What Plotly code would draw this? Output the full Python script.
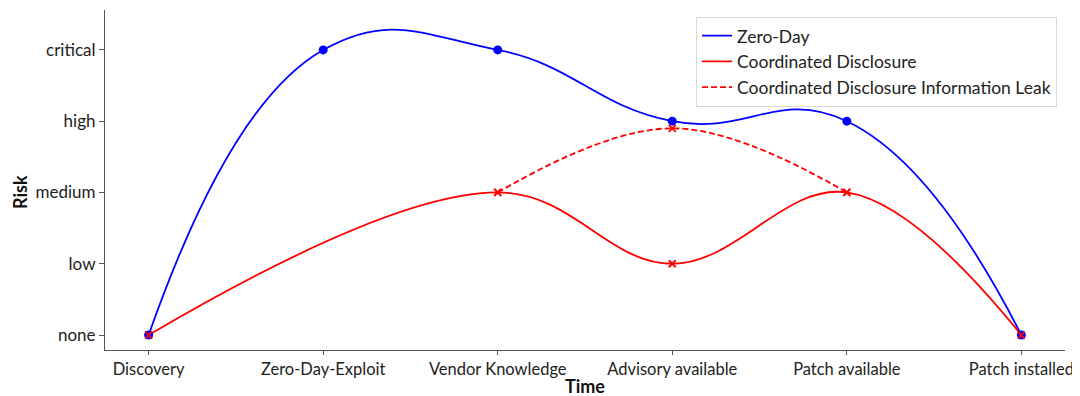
import plotly.graph_objects as go

stages = ["Discovery", "Zero-Day-Exploit", "Vendor Knowledge", "Advisory available",
          "Patch available", "Patch installed"]
risk_labels = ["none", "low", "medium", "high", "critical"]

zero_day_x = stages
zero_day_y = [0, 4, 4, 3, 3, 0]

coord_x = ["Discovery", "Vendor Knowledge", "Advisory available", "Patch available", "Patch installed"]
coord_y = [0, 2, 1, 2, 0]

leak_x = ["Vendor Knowledge", "Advisory available", "Patch available"]
leak_y = [2, 2.9, 2]

BLUE = "#0000ff"
RED = "#ff0000"
FONT = "Lato"
LW = 1.8
SMOOTH = 1.1

fig = go.Figure()

fig.add_trace(go.Scatter(x=zero_day_x, y=zero_day_y, mode="lines", name="Zero-Day",
                         line=dict(color=BLUE, width=LW, shape="spline", smoothing=1.3)))
fig.add_trace(go.Scatter(x=coord_x, y=coord_y, mode="lines", name="Coordinated Disclosure",
                         line=dict(color=RED, width=LW, shape="spline", smoothing=SMOOTH)))
fig.add_trace(go.Scatter(x=leak_x, y=leak_y, mode="lines", name="Coordinated Disclosure Information Leak",
                         line=dict(color=RED, width=LW, shape="spline", smoothing=SMOOTH, dash="6px,3px")))
fig.add_trace(go.Scatter(x=zero_day_x, y=zero_day_y, mode="markers", showlegend=False,
                         marker=dict(color=BLUE, size=9, symbol="circle")))
fig.add_trace(go.Scatter(x=coord_x, y=coord_y, mode="markers", showlegend=False,
                         marker=dict(color=RED, size=7, symbol="x-thin",
                                     line=dict(color=RED, width=1.8))))
fig.add_trace(go.Scatter(x=leak_x, y=leak_y, mode="markers", showlegend=False,
                         marker=dict(color=RED, size=7, symbol="x-thin",
                                     line=dict(color=RED, width=1.8))))

# page has an 8px body margin, so the figure is 1072x388 placed at (8, 8)
fig.update_layout(
    width=1072, height=388,
    margin=dict(l=97, r=15, t=2, b=46),
    paper_bgcolor="white", plot_bgcolor="white",
    font=dict(family=FONT, size=17, color="#222222"),
    legend=dict(x=0.9917, y=0.98, xanchor="right", yanchor="top",
                bgcolor="white", bordercolor="#d8d8d8", borderwidth=1,
                font=dict(family=FONT, size=17.5, color="#222222"),
                tracegroupgap=3),
    showlegend=True,
    annotations=[
        dict(text="<b>Time</b>", xref="paper", yref="paper", x=0.5, y=-0.106,
             xanchor="center", yanchor="middle", showarrow=False,
             font=dict(family=FONT, size=18, color="#111111")),
        dict(text="<b>Risk</b>", xref="paper", yref="paper", x=-0.0885, y=0.465,
             xanchor="center", yanchor="middle", showarrow=False, textangle=-90,
             font=dict(family=FONT, size=18, color="#111111")),
    ],
)
fig.update_xaxes(
    type="category", categoryorder="array", categoryarray=stages,
    range=[-0.25, 5.25], showgrid=False, zeroline=False, automargin=False,
    showline=True, linecolor="#555555", linewidth=1.2,
    ticks="outside", ticklen=4, tickcolor="#555555",
    tickfont=dict(family=FONT, size=16.5, color="#222222"),
)
fig.update_yaxes(
    tickmode="array", tickvals=list(range(len(risk_labels))), ticktext=risk_labels,
    range=[-0.21, 4.56], showgrid=False, zeroline=False, automargin=False,
    showline=True, linecolor="#555555", linewidth=1.2,
    ticks="outside", ticklen=5, tickcolor="#555555",
)

fig.write_html("out.html")
